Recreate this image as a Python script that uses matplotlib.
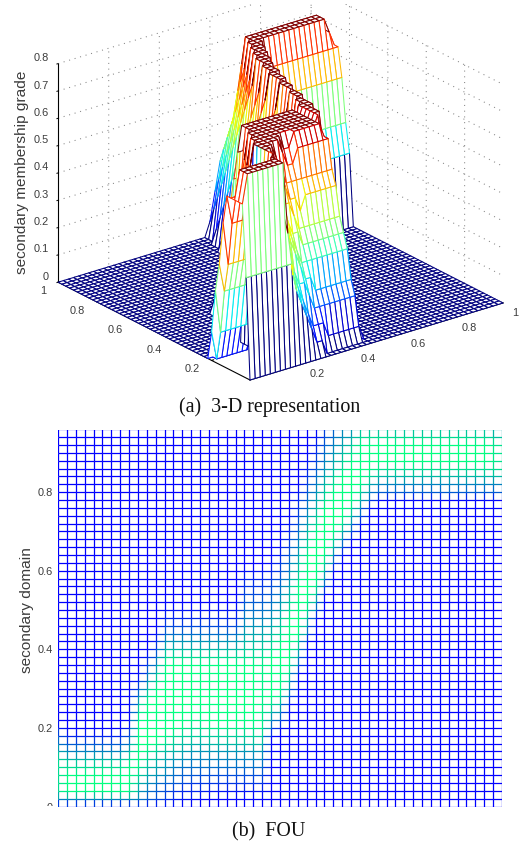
import numpy as np
import matplotlib
matplotlib.use("Agg")
import matplotlib.pyplot as plt
from matplotlib.colors import Normalize, LinearSegmentedColormap
from matplotlib.collections import LineCollection
from matplotlib.transforms import Bbox, TransformedBbox, IdentityTransform
from mpl_toolkits.mplot3d import proj3d

plt.rcParams['font.family'] = ['Liberation Sans', 'DejaVu Sans']

# axis ticks and labels
primary_ticks = [0.2, 0.4, 0.6, 0.8, 1.0]
primary_labels = ['0.2', '0.4', '0.6', '0.8', '1']
secondary_ticks = [0.2, 0.4, 0.6, 0.8, 1.0]
secondary_labels = ['0.2', '0.4', '0.6', '0.8', '1']
grade_ticks = [0, 0.1, 0.2, 0.3, 0.4, 0.5, 0.6, 0.7, 0.8]
grade_labels = ['0', '0.1', '0.2', '0.3', '0.4', '0.5', '0.6', '0.7', '0.8']
fou_ticks = [0, 0.2, 0.4, 0.6, 0.8]
fou_labels = ['0', '0.2', '0.4', '0.6', '0.8']
grade_label = 'secondary membership grade'
domain_label = 'secondary domain'
caption_a = '(a)  3-D representation'
caption_b = '(b)  FOU'

# one character per secondary value (0, 0.02, ...), in units of grade_unit
# (0-9, then a, b, c, d, e = 14 units); omitted trailing values are 0.
grade_unit = 0.0525
ramp8 = 'ca86421'
ramp12 = 'cba987654321'
foot = '57ac'
grade_columns = [
    '07ccccca752',
    '07eeeca752', '07eeeca752', '07eeeca752', '07eeeca752',
    '07eeeca752', '07eeeca752', '07eeeca752',
    '07eeeeca752',
    '079acd' + 'e' * 6 + 'ca752',
    '05689abd' + 'e' * 6 + 'ca8642',
    '045689abd' + 'e' * 7 + ramp8,
    '0345789acd' + 'e' * 9 + ramp8,
    '0235678abc' + 'e' * 9 + ramp8,
    '01245689abd' + 'e' * 8 + ramp8,
    '01235678abcd' + 'e' * 7 + ramp8,
    '002346789bcd' + 'e' * 7 + ramp8,
    '00134678abd' + 'e' * 8 + ramp8,
    '00134678abd' + 'e' * 8 + ramp8,
    '00134678abd' + 'e' * 8 + ramp8,
    '00134678abd' + 'e' * 8 + ramp8,
    '00134678abd' + 'e' * 8 + ramp12,
    '00134678abd' + 'e' * 8 + ramp12,
    '00134678abd' + 'd' * 8 + ramp12,
    '0' * 10 + foot + 'e' * 6 + ramp12,
    '0' * 11 + foot + 'e' * 7 + ramp12,
    '0' * 14 + foot + 'e' * 7 + ramp12,
    '0' * 18 + foot + 'e' * 7 + ramp12,
    '0' * 22 + foot + 'e' * 7 + ramp12,
    '0' * 25 + foot + 'e' * 7 + ramp12,
    '0' * 28 + foot + 'e' * 7 + ramp12,
    '0' * 31 + foot + 'e' * 6 + 'cba9876543',
    '0' * 33 + foot + 'e' * 6 + 'cba98765',
    '0' * 35 + foot + 'e' * 6 + 'cb9875',
    '0' * 37 + foot + 'e' * 6 + 'ca86',
    '0' * 39 + foot + 'e' * 4 + 'ca86',
] + ['0' * 40 + foot + 'eee' + 'ca86'] * 13 + [
    '0' * 40 + foot + 'ddd' + 'b975',
    '0' * 40 + foot + 'ccc' + 'a864',
]

n_grid = 51
primary = np.arange(n_grid) * 0.02
secondary = np.arange(n_grid) * 0.02
Z = np.array([[int(c, 36) * grade_unit for c in col.ljust(n_grid, '0')]
              for col in grade_columns])
PX, SY = np.meshgrid(primary, secondary, indexing='ij')

W, H = 529, 846
fig = plt.figure(figsize=(W / 100, H / 100), dpi=100, facecolor='white')
text_col = '#3c3c3c'
tick_size = 7.9
label_size = 11.1
caption_size = 14.4


def px_rect(left, top, right, bottom):
    return [left / W, 1 - bottom / H, (right - left) / W, (bottom - top) / H]


# ---------------- (a) 3-D mesh ----------------
size = 800
ax = fig.add_axes(px_rect(-100, -100, -100 + size, -100 + size),
                  projection='3d', proj_type='ortho')
ax.patch.set_visible(False)
ax.set_xlim(0, 1, view_margin=0)
ax.set_ylim(0, 1, view_margin=0)
ax.set_zlim(0, 0.8, view_margin=0)
ax.view_init(elev=23.2, azim=-127.7)
aspect = (320, 314, 238)
zoom = 0.8
ax.set_box_aspect(aspect, zoom=zoom)

jet = plt.get_cmap('jet')
norm = Normalize(0, 14 * grade_unit)
faces = np.ones(Z.shape + (4,))
surf = ax.plot_surface(PX, SY, Z, rstride=1, cstride=1, facecolors=faces,
                       shade=False, linewidth=0.75, antialiased=True)
surf.set_edgecolors(jet(norm(Z[:-1, :-1])).reshape(-1, 4))
surf.set_clip_on(False)

ax.set_xticks(primary_ticks, primary_labels)
ax.set_yticks(secondary_ticks, secondary_labels)
ax.set_zticks(grade_ticks, grade_labels)
for axis in (ax.xaxis, ax.yaxis, ax.zaxis):
    axis.set_pane_color((1, 1, 1, 0))
    axis.pane.set_edgecolor((1, 1, 1, 0))
    axis.line.set_color('black')
    axis.line.set_linewidth(0.8)
    axis._axinfo['grid'].update(color='#858585', linestyle=(0, (1, 4.5)),
                                linewidth=0.75)
    axis._axinfo['tick'].update(inward_factor=0.0, outward_factor=0.1)
    axis._axinfo['tick']['linewidth'] = {True: 0.7, False: 0.5}
    axis.set_tick_params(labelsize=tick_size, labelcolor=text_col, pad=6)
    axis.gridlines.set_clip_box(
        TransformedBbox(Bbox([[0, 0], [W, H - 4]]), IdentityTransform()))
ax.zaxis._axinfo['tick'].update(inward_factor=0.06, outward_factor=0.0)
ax.zaxis.set_tick_params(pad=-2)
for lab in ax.zaxis.get_ticklabels():
    lab.set_va('bottom')
    lab.set_ha('right')
for lab in ax.xaxis.get_ticklabels():
    lab.set_va('bottom')
    lab.set_ha('left')
for lab in ax.yaxis.get_ticklabels():
    lab.set_va('bottom')
    lab.set_ha('right')

# place the axes: origin, primary, secondary and grade directions in pixels
fig.canvas.draw()


def to_px(pts):
    pts = np.asarray(pts, float).T
    xs, ys, _ = proj3d.proj_transform(pts[0], pts[1], pts[2], ax.get_proj())
    return ax.transData.transform(np.c_[xs, ys])


p = to_px([[0, 0, 0], [1, 0, 0]])
zoom *= np.hypot(253, 77) / np.hypot(*(p[1] - p[0]))
ax.set_box_aspect(aspect, zoom=zoom)
fig.canvas.draw()
p0 = to_px([[0, 0, 0]])[0]
dx = 250 - p0[0]
dy = (H - 380) - p0[1]
ax.set_position(px_rect(-100 + dx, -100 - dy, -100 + dx + size, -100 - dy + size))

fig.text(22 / W, 1 - 172 / H, grade_label, rotation=90, ha='center', va='center',
         fontsize=label_size, color=text_col)
fig.text(270 / W, 1 - 407 / H, caption_a, ha='center', va='center',
         fontsize=caption_size, family=['Liberation Serif'], color='#111111')

# ---------------- (b) FOU ----------------
ax2 = fig.add_axes(px_rect(58, 430, 502, 806.5))
fou_cmap = LinearSegmentedColormap.from_list('fou', [(0, 0, 1), (0, 1, 0.5)])
seg_along_x = np.stack([np.stack([PX[:-1, :], SY[:-1, :]], -1),
                        np.stack([PX[1:, :], SY[1:, :]], -1)], 2).reshape(-1, 2, 2)
seg_along_y = np.stack([np.stack([PX[:, :-1], SY[:, :-1]], -1),
                        np.stack([PX[:, 1:], SY[:, 1:]], -1)], 2).reshape(-1, 2, 2)
val_x = 0.5 * (Z[:-1, :] + Z[1:, :])
val_y = 0.5 * (Z[:, :-1] + Z[:, 1:])
lines = LineCollection(np.concatenate([seg_along_x, seg_along_y]),
                       array=np.concatenate([val_x.ravel(), val_y.ravel()]),
                       cmap=fou_cmap, norm=norm, linewidths=0.9)
ax2.add_collection(lines)
ax2.set_xlim(0, 1)
ax2.set_ylim(0, 0.958)
ax2.set_xticks([])
ax2.set_yticks(fou_ticks, fou_labels)
ax2.tick_params(axis='y', length=0, pad=4, labelsize=tick_size, labelcolor=text_col)
for s in ax2.spines.values():
    s.set_visible(False)
ax2.set_ylabel(domain_label, fontsize=label_size, color=text_col)
ax2.yaxis.set_label_coords(-0.055, (806.5 - 610) / 376.5)
# the lowest tick label is cut off at the plot's lower edge in the source
ax2.get_yticklabels()[0].set_clip_box(
    TransformedBbox(Bbox([[0, H - 806], [W, H]]), IdentityTransform()))
ax2.get_yticklabels()[0].set_clip_on(True)

fig.text(269 / W, 1 - 832 / H, caption_b, ha='center', va='center',
         fontsize=caption_size, family=['Liberation Serif'], color='#111111')

fig.savefig('out.png', dpi=100, facecolor='white')
